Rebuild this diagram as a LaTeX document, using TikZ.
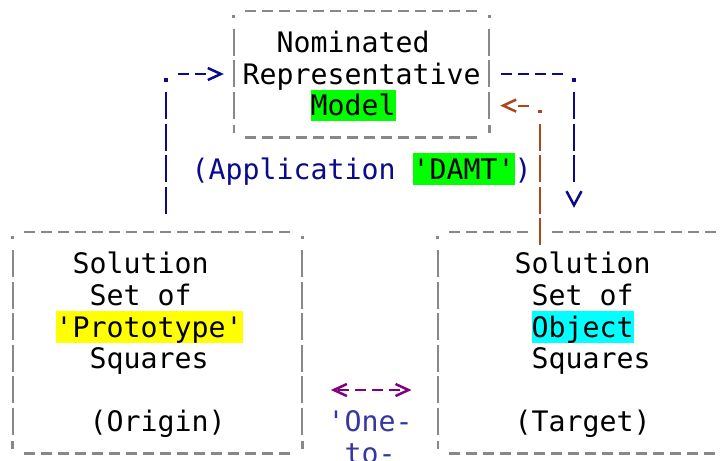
\documentclass[tikz,border=0pt]{standalone}
\usepackage{fontspec}
\setmonofont{DejaVu Sans Mono}
\usetikzlibrary{arrows.meta,calc}

\definecolor{frame}{RGB}{136,136,136}
\definecolor{navy}{RGB}{10,10,140}
\definecolor{rust}{RGB}{170,72,28}
\definecolor{plum}{RGB}{128,0,128}
\definecolor{slate}{RGB}{55,55,160}
\definecolor{hlgreen}{RGB}{0,255,0}
\definecolor{hlyellow}{RGB}{255,255,0}
\definecolor{hlcyan}{RGB}{0,255,255}

\begin{document}
\begin{tikzpicture}[x=17pt,y=-31.6pt,
    font=\ttfamily\fontsize{28.24pt}{31.6pt}\selectfont,
    ln/.style={inner sep=0pt,text height=26.1pt,text depth=5.5pt,anchor=west},
    hl/.style={ln,fill=#1},
    frm/.style={inner sep=0pt,minimum width=#1,minimum height=221.2pt},
    dashes/.style={line width=2.2pt,dash pattern=on 11pt off 6pt},
    bars/.style={line width=2.2pt,dash pattern=on 27pt off 4.6pt},
    >={Straight Barb[length=13pt,width=12pt,line width=2.5pt]}]
  \useasboundingbox[fill=white] (-13pt,10.8pt) rectangle (708pt,-450.2pt);

  % the three boxes
  \node[frm=255pt,minimum height=126.4pt] (model) at (20.5,2) {};
  \node[frm=289pt] (origin) at (8.5,10.5) {};
  \node[frm=289pt] (target) at (33.5,10.5) {};

  \foreach \b in {model,origin,target} {
    \draw[frame,bars] ([yshift=-18.1pt]\b.north west) -- ([yshift=18.1pt]\b.south west);
    \draw[frame,bars] ([yshift=-18.1pt]\b.north east) -- ([yshift=18.1pt]\b.south east);
    \draw[frame,dashes] ([xshift=11.5pt]\b.south west) -- ([xshift=-11.5pt]\b.south east);
    \fill[frame] ([yshift=-6pt]\b.north west) +(-1.6pt,-1.6pt) rectangle +(1.6pt,1.6pt);
    \fill[frame] ([yshift=-6pt]\b.north east) +(-1.6pt,-1.6pt) rectangle +(1.6pt,1.6pt);
    \fill[frame] ([yshift=8pt]\b.south west) +(-1.3pt,-4pt) rectangle +(1.3pt,4pt);
    \fill[frame] ([yshift=8pt]\b.south east) +(-1.3pt,-4pt) rectangle +(1.3pt,4pt);
  }
  \draw[frame,dashes] ([xshift=11.5pt]model.north west) -- ([xshift=-11.5pt]model.north east);
  \draw[frame,dashes] ([xshift=11.5pt]origin.north west) -- ([xshift=-11.5pt]origin.north east);
  \draw[frame,dashes] ([xshift=11.5pt]target.north west) -- ++(79pt,0);
  \draw[frame,dashes] ([xshift=-11.5pt]target.north east) -- ++(-164pt,0);

  % texts
  \node[ln] (nom) at (15.5,1) {Nominated};
  \node[ln] (rep) at (13.5,2) {Representative};
  \node[hl=hlgreen] (mdl) at (17.5,3) {Model};
  \node[ln,navy] (appl) at (10.5,5) {(Application};
  \node[hl=hlgreen] (damt) at (23.5,5) {'DAMT'};
  \node[ln,navy] (close) at (29.5,5) {)};

  \node[ln] (sol1) at (3.5,8) {Solution};
  \node[ln] (set1) at (4.5,9) {Set of};
  \node[hl=hlyellow] (proto) at (2.5,10) {'Prototype'};
  \node[ln] (sq1) at (4.5,11) {Squares};
  \node[ln] (orig) at (4.5,13) {(Origin)};

  \node[ln] (sol2) at (29.5,8) {Solution};
  \node[ln] (set2) at (30.5,9) {Set of};
  \node[hl=hlcyan] (obj) at (30.5,10) {Object};
  \node[ln] (sq2) at (30.5,11) {Squares};
  \node[ln] (targ) at (29.5,13) {(Target)};

  \node[ln,slate] (one) at (18.5,13) {'One-};
  \node[ln,slate] (to) at (19.5,14) {to-};

  % connectors
  \coordinate (up) at (9,2);
  \coordinate (dn) at (33,2);
  \coordinate (br) at (31,3);
  \coordinate (mid) at (21,12);

  \draw[navy,bars,shorten <=18.1pt,shorten >=18.1pt] (origin.north -| up) -- (up);
  \fill[navy] ([yshift=-6pt]up) +(-1.6pt,-1.6pt) rectangle +(1.6pt,1.6pt);
  \draw[navy,line width=2.2pt,dash pattern=on 11pt off 6pt on 11pt off 60pt,->,
    shorten <=11.5pt,shorten >=10pt] (up) -- (up -| model.west);

  \draw[navy,dashes,shorten <=11.5pt,shorten >=11.5pt] (model.east |- dn) -- (dn);
  \fill[navy] ([yshift=-6pt]dn) +(-1.6pt,-1.6pt) rectangle +(1.6pt,1.6pt);
  \draw[navy,line width=2.2pt,dash pattern=on 27pt off 4.6pt on 27pt off 4.6pt on 27pt off 60pt,
    -{Straight Barb[length=14pt,width=15pt,line width=2.5pt]},shorten <=18.1pt,shorten >=24pt]
    (dn) -- (dn |- target.north);

  \draw[rust,bars,shorten <=-13.5pt,shorten >=18.1pt] (br |- target.north) -- (br);
  \fill[rust] ([yshift=-6pt]br) +(-1.6pt,-1.6pt) rectangle +(1.6pt,1.6pt);
  \draw[rust,line width=2.2pt,dash pattern=on 11pt off 60pt,->,
    shorten <=11.5pt,shorten >=11pt] (br) -- (br -| model.east);

  \draw[plum,dashes,dash phase=14.2pt,<->,shorten <=28.7pt,shorten >=26.3pt]
    (mid -| origin.east) -- (mid -| target.west);
\end{tikzpicture}
\end{document}
